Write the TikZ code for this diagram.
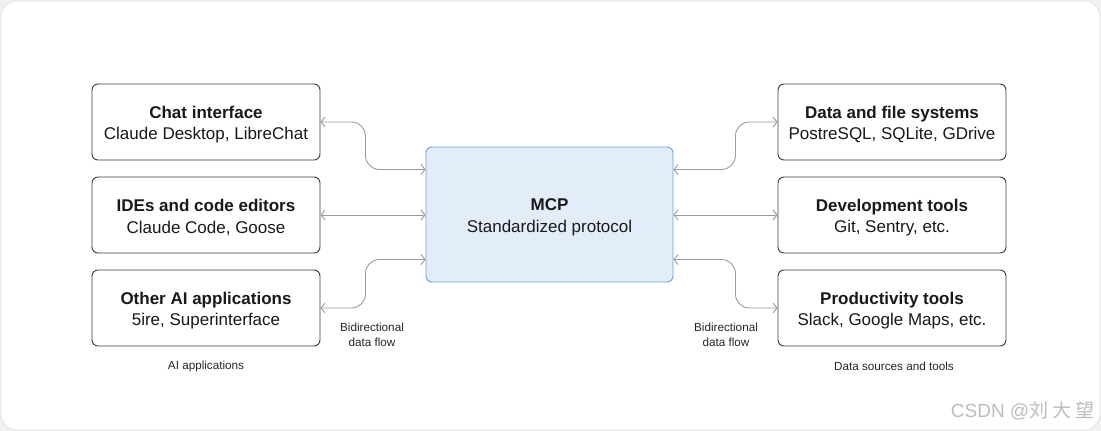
\documentclass[tikz,border=0pt]{standalone}
\usepackage{fontspec}
\setmainfont{Liberation Sans}
\newfontfamily\cjkfont{Noto Sans CJK SC}
\usetikzlibrary{arrows.meta}
\definecolor{boxborder}{HTML}{3A3A3A}
\definecolor{mcpfill}{HTML}{E3EDF9}
\definecolor{mcpborder}{HTML}{6E9FDB}
\definecolor{conncol}{HTML}{9C9C9C}
\definecolor{bgcol}{HTML}{F1F1F1}
\definecolor{framecol}{HTML}{E4E4E4}
\definecolor{wmcol}{HTML}{BDBDBD}
\newcommand{\boxtitle}[1]{\rule{0pt}{17.5pt}\textbf{#1}}
\tikzset{
  appbox/.style={draw=boxborder, line width=0.9pt, rounded corners=6pt, minimum width=228pt, minimum height=76pt, align=center, inner sep=0pt, font=\fontsize{17}{21.5}\selectfont, text=black!90},
  mcpbox/.style={draw=mcpborder, fill=mcpfill, line width=0.9pt, rounded corners=6pt, minimum width=247pt, minimum height=135pt, align=center, inner sep=0pt, font=\fontsize{17}{22.5}\selectfont, text=black!90},
  conn/.style={draw=conncol, line width=0.9pt, rounded corners=14pt, {Straight Barb[length=4pt,width=10pt]}-{Straight Barb[length=4pt,width=10pt]}},
  smalllabel/.style={align=center, font=\fontsize{11.7}{15}\selectfont, text=black!85, inner sep=0pt},
}
\begin{document}
\begin{tikzpicture}[x=1pt,y=1pt]
\useasboundingbox (0,0) rectangle (1101,431);
\fill[bgcol] (0,0) rectangle (1101,431);
\draw[fill=white, draw=framecol, line width=0.8pt, rounded corners=16pt] (1,1) rectangle (1100,430);

% left boxes
\node[appbox] (chat) at (206,309) {\boxtitle{Chat interface}\\Claude Desktop, LibreChat};
\node[appbox] (ide) at (206,216) {\boxtitle{IDEs and code editors}\\Claude Code, Goose};
\node[appbox] (other) at (206,123) {\boxtitle{Other AI applications}\\5ire, Superinterface};

% center
\node[mcpbox] (mcp) at (549.5,216.5) {\boxtitle{MCP}\\Standardized protocol};

% right boxes
\node[appbox] (data) at (892,309) {\boxtitle{Data and file systems}\\PostreSQL, SQLite, GDrive};
\node[appbox] (dev) at (892,216) {\boxtitle{Development tools}\\Git, Sentry, etc.};
\node[appbox] (prod) at (892,123) {\boxtitle{Productivity tools}\\Slack, Google Maps, etc.};

% connectors left
\draw[conn] (chat.east) -- ++(45,0) |- ([yshift=45pt]mcp.west);
\draw[conn] (ide.east) -- (mcp.west |- ide.east);
\draw[conn] (other.east) -- ++(45,0) |- ([yshift=-45pt]mcp.west);

% connectors right
\draw[conn] ([yshift=45pt]mcp.east) -- ++(62,0) |- (data.west);
\draw[conn] (mcp.east |- dev.west) -- (dev.west);
\draw[conn] ([yshift=-45pt]mcp.east) -- ++(62,0) |- (prod.west);

% labels
\node[smalllabel] (bl) at (372,96) {Bidirectional\\data flow};
\node[smalllabel] (br) at (726,96) {Bidirectional\\data flow};
\node[smalllabel] (ail) at (206,65) {AI applications};
\node[smalllabel] (dsl) at (894,65) {Data sources and tools};

% watermark
\node[anchor=east, inner sep=0pt, text=wmcol, font=\fontsize{19}{22}\selectfont] (wm) at (1095,20) {CSDN @{\cjkfont 刘 大 望}};
\end{tikzpicture}
\end{document}
